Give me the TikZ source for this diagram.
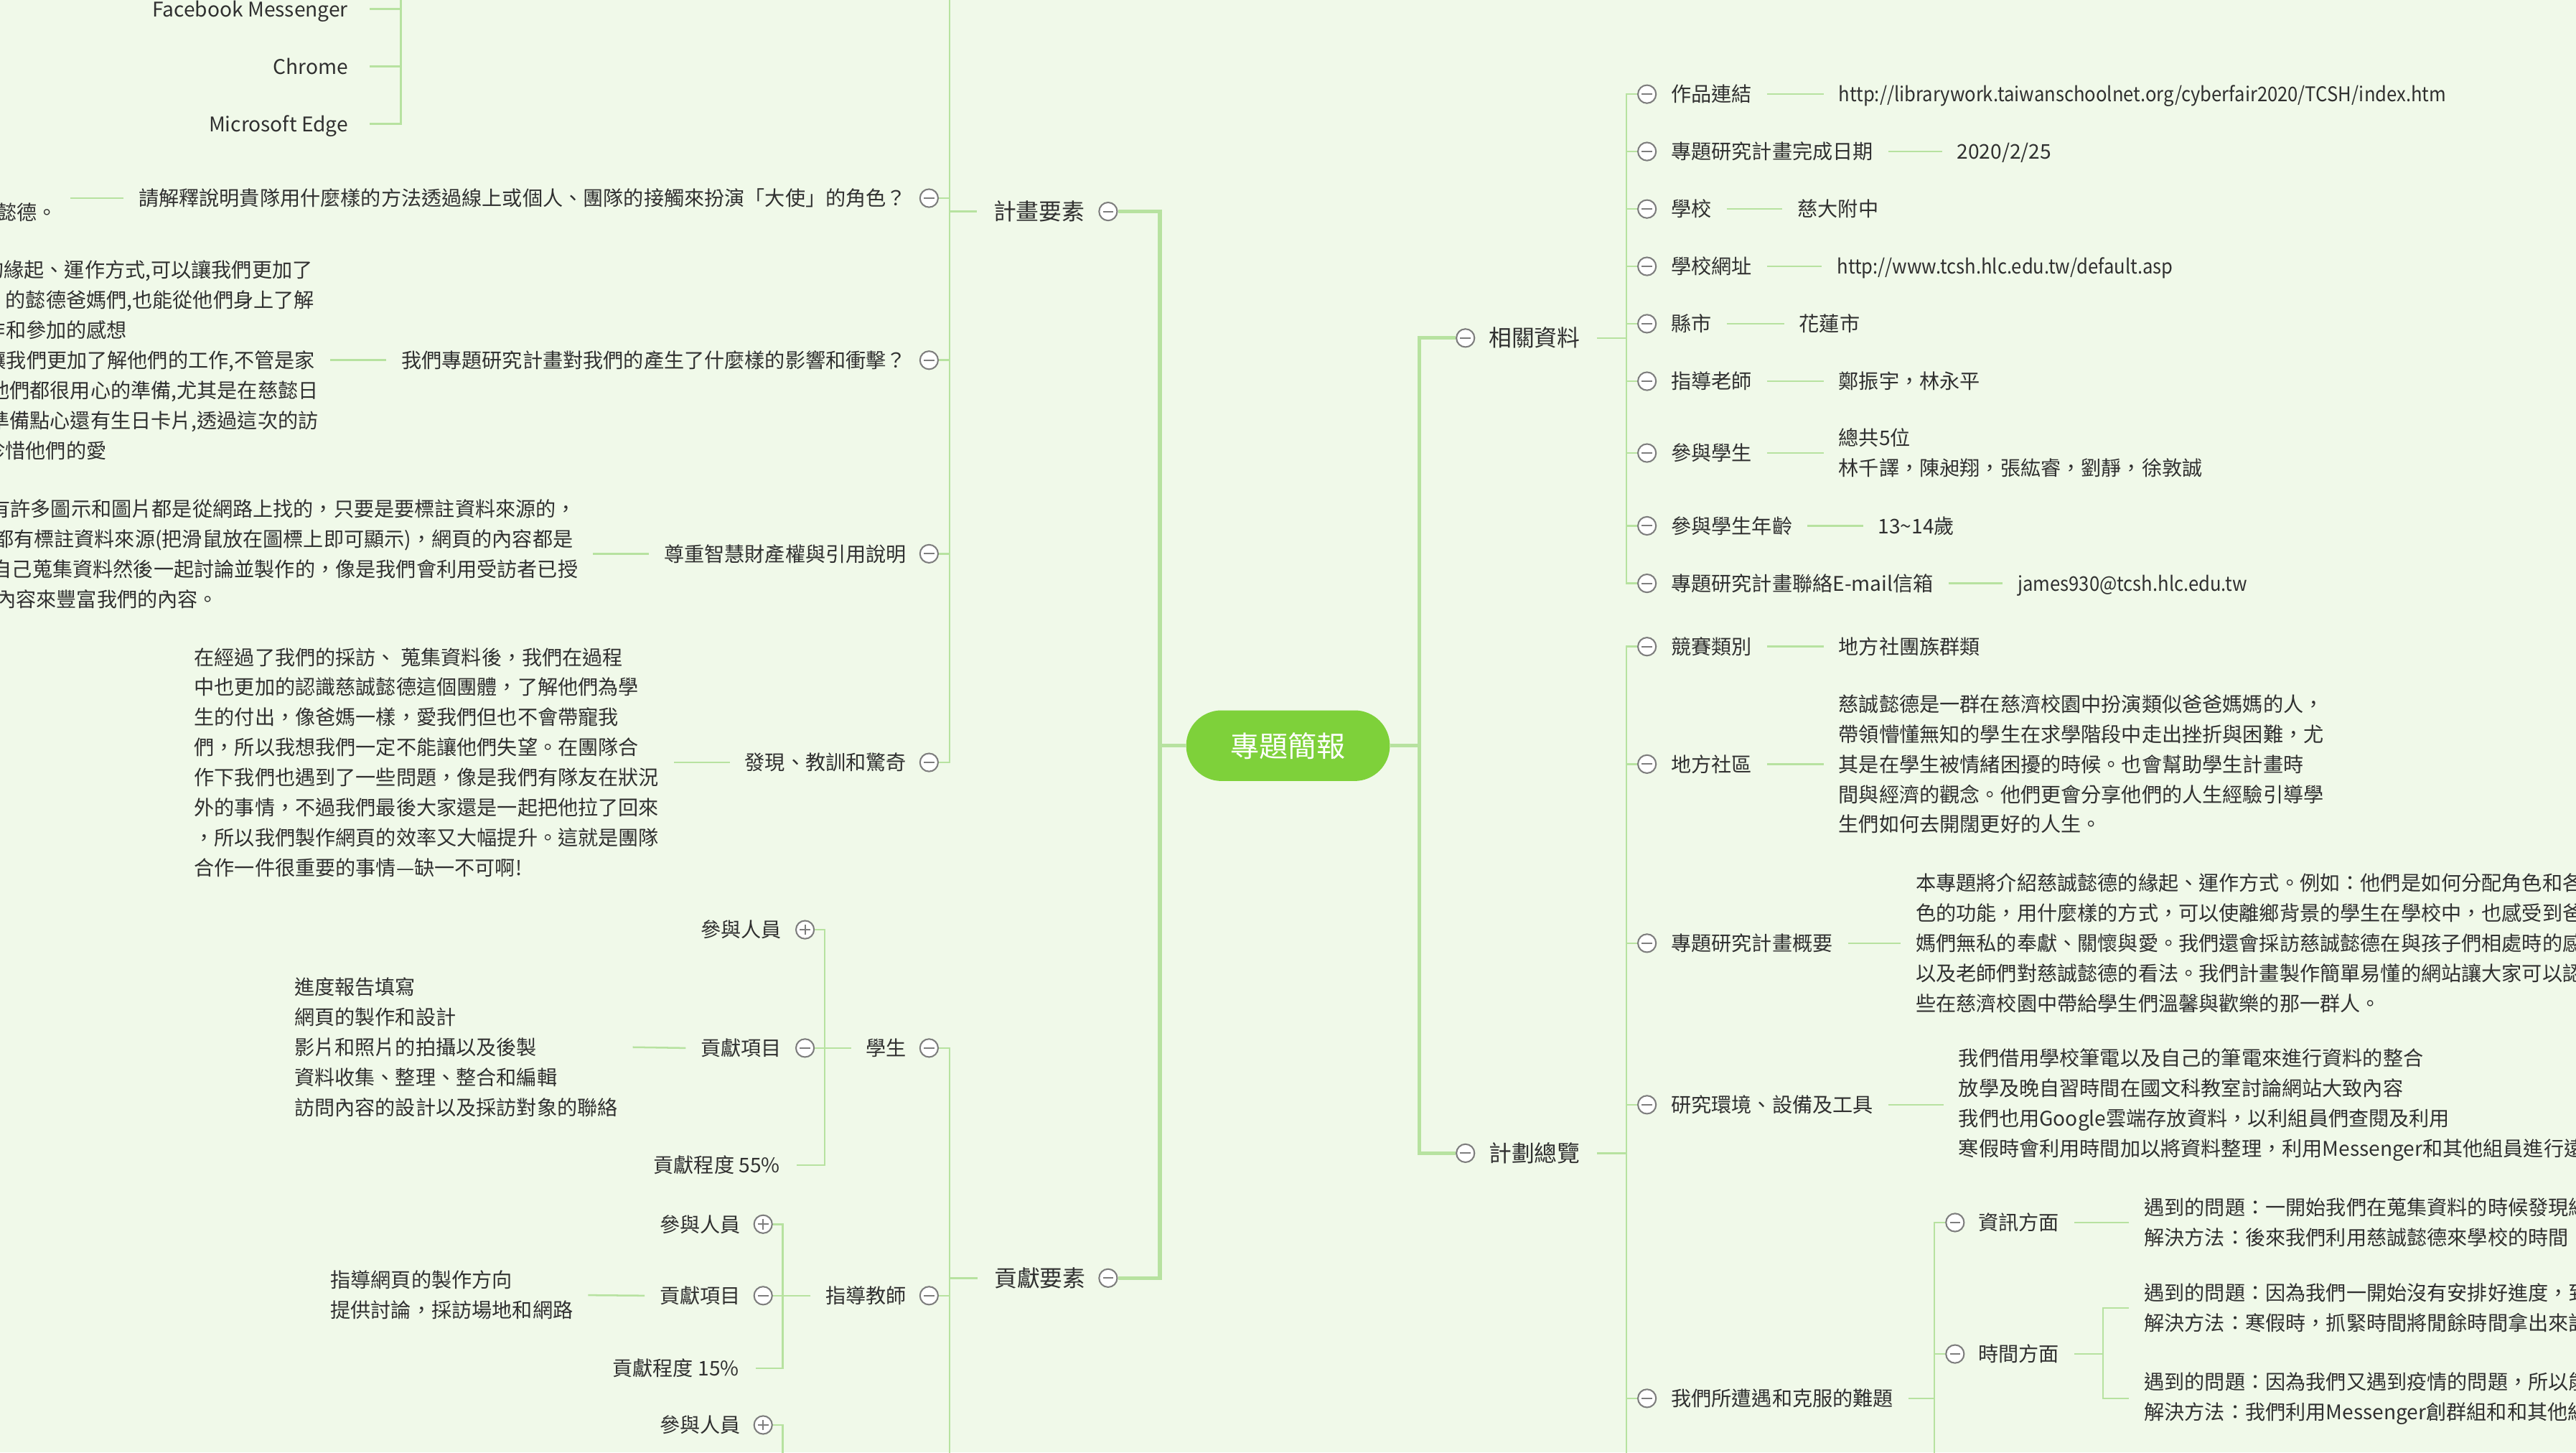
\documentclass[tikz,border=0pt]{standalone}
\usepackage{fontspec}
\setmainfont{Noto Sans CJK TC}
\newfontfamily\narrowfont[FakeStretch=0.91]{Noto Sans CJK TC}
\definecolor{bgc}{RGB}{240,249,233}
\definecolor{lineg}{RGB}{183,226,160}
\definecolor{txt}{RGB}{48,48,48}
\definecolor{hubg}{RGB}{126,209,58}
\definecolor{cgray}{RGB}{125,125,125}
\tikzset{
  lab/.style={anchor=west, inner sep=0pt, text=txt, font=\fontsize{12.3}{18.3}\selectfont, text height=10.8pt, text depth=1.4pt},
  labr/.style={lab, anchor=east},
  labn/.style={lab, font=\narrowfont\fontsize{12.3}{18.3}\selectfont},
  labone/.style={lab, font=\fontsize{13.9}{18}\selectfont, text height=12.1pt, text depth=1.6pt},
  laboner/.style={labone, anchor=east},
  para/.style={anchor=west, inner sep=0pt, text=txt, font=\fontsize{12.3}{18.3}\selectfont, align=left},
  hubnode/.style={rectangle, rounded corners=21.5pt, fill=hubg, text=white, minimum width=124pt, minimum height=43pt, inner sep=0pt, font=\fontsize{17.5}{20}\selectfont},
  tog/.style={circle, draw=cgray, fill=white, line width=0.9pt, minimum size=11pt, inner sep=0pt,
    path picture={\draw[cgray, line width=0.9pt] ([xshift=-3.2pt]path picture bounding box.center) -- ([xshift=3.2pt]path picture bounding box.center);}},
  togp/.style={circle, draw=cgray, fill=white, line width=0.9pt, minimum size=11pt, inner sep=0pt,
    path picture={\draw[cgray, line width=0.9pt] ([xshift=-3.2pt]path picture bounding box.center) -- ([xshift=3.2pt]path picture bounding box.center);
                  \draw[cgray, line width=0.9pt] ([yshift=-3.2pt]path picture bounding box.center) -- ([yshift=3.2pt]path picture bounding box.center);}},
  conn/.style={draw=lineg, line width=1.1pt},
  trunk/.style={draw=lineg, line width=2.2pt},
}
\begin{document}
\begin{tikzpicture}[x=1pt, y=-1pt]
\useasboundingbox (0,0) rectangle (1568,884);
\fill[bgc] (0,0) rectangle (1568,884);
\clip (0,0) rectangle (1568,884);

% ---------- hub and level 1 ----------
\node[hubnode] (hub) at (784,453.8) {專題簡報};
\coordinate (RT) at (864,453.8);
\coordinate (LT) at (706,453.8);

\node[tog] (cXG) at (892,205.7) {};
\node[labone] (XG) at (906,205.7) {相關資料};
\node[tog] (cJH) at (892,701.8) {};
\node[labone] (JH) at (906,701.8) {計劃總覽};
\node[tog] (cJY) at (674.5,128.7) {};
\node[laboner] (JY) at (660.5,128.7) {計畫要素};
\node[tog] (cGX) at (674.5,777.8) {};
\node[laboner] (GX) at (661,777.8) {貢獻要素};

\draw[trunk] (hub.east) -- (RT);
\draw[trunk] (cXG.west) -| (RT) |- (cJH.west);
\draw[trunk] (hub.west) -- (LT);
\draw[trunk] (cJY.east) -| (LT) |- (cGX.east);

% ---------- right: 相關資料 ----------
\coordinate (XGt) at (990,205.7);
\draw[conn] ([xshift=10pt]XG.east) -- (XGt);

\node[tog] (cR1) at (1002.5,57.3) {};
\node[lab] (R1) at (1017,57.3) {作品連結};
\node[labn] (V1) at (1119,57.3) {http://librarywork.taiwanschoolnet.org/cyberfair2020/TCSH/index.htm};
\node[tog] (cR2) at (1002.5,92.2) {};
\node[lab] (R2) at (1017,92.2) {專題研究計畫完成日期};
\node[lab] (V2) at (1191,92.2) {2020/2/25};
\node[tog] (cR3) at (1002.5,127.2) {};
\node[lab] (R3) at (1017,127.2) {學校};
\node[lab] (V3) at (1094,127.2) {慈大附中};
\node[tog] (cR4) at (1002.5,162.1) {};
\node[lab] (R4) at (1017,162.1) {學校網址};
\node[labn] (V4) at (1118,162.1) {http://www.tcsh.hlc.edu.tw/default.asp};
\node[tog] (cR5) at (1002.5,197) {};
\node[lab] (R5) at (1017,197) {縣市};
\node[lab] (V5) at (1095,197) {花蓮市};
\node[tog] (cR6) at (1002.5,232) {};
\node[lab] (R6) at (1017,232) {指導老師};
\node[lab] (V6) at (1119,232) {鄭振宇，林永平};
\node[tog] (cR7) at (1002.5,275.7) {};
\node[lab] (R7) at (1017,275.7) {參與學生};
\node[para] (V7) at (1119,275.7) {總共5位\\林千譯，陳昶翔，張紘睿，劉靜，徐敦誠};
\node[tog] (cR8) at (1002.5,320) {};
\node[lab] (R8) at (1017,320) {參與學生年齡};
\node[lab] (V8) at (1143,320) {13\textasciitilde14歲};
\node[tog] (cR9) at (1002.5,355) {};
\node[lab] (R9) at (1017,355) {專題研究計畫聯絡E-mail信箱};
\node[labn] (V9) at (1228,355) {james930@tcsh.hlc.edu.tw};

\foreach \i in {1,...,9} {
  \draw[conn] (XGt) |- (cR\i.west);
  \draw[conn] ([xshift=9pt]R\i.east) -- ([xshift=-9pt]V\i.west);
}

% ---------- right: 計劃總覽 ----------
\coordinate (JHt) at (990,701.8);
\coordinate (JHend) at (990,900);
\draw[conn] ([xshift=10pt]JH.east) -- (JHt) -- (JHend);

\node[tog] (cP1) at (1002.5,393.5) {};
\node[lab] (P1) at (1017,393.5) {競賽類別};
\node[lab] (W1) at (1119,393.5) {地方社團族群類};
\node[tog] (cP2) at (1002.5,465) {};
\node[lab] (P2) at (1017,465) {地方社區};
\node[para] (W2) at (1119,465) {慈誠懿德是一群在慈濟校園中扮演類似爸爸媽媽的人，\\帶領懵懂無知的學生在求學階段中走出挫折與困難，尤\\其是在學生被情緒困擾的時候。也會幫助學生計畫時\\間與經濟的觀念。他們更會分享他們的人生經驗引導學\\生們如何去開闊更好的人生。};
\node[tog] (cP3) at (1002.5,574) {};
\node[lab] (P3) at (1017,574) {專題研究計畫概要};
\node[para] (W3) at (1166,574) {本專題將介紹慈誠懿德的緣起、運作方式。例如：他們是如何分配角色和各\\色的功能，用什麼樣的方式，可以使離鄉背景的學生在學校中，也感受到爸\\媽們無私的奉獻、關懷與愛。我們還會採訪慈誠懿德在與孩子們相處時的感\\以及老師們對慈誠懿德的看法。我們計畫製作簡單易懂的網站讓大家可以認\\些在慈濟校園中帶給學生們溫馨與歡樂的那一群人。};
\node[tog] (cP4) at (1002.5,672.3) {};
\node[lab] (P4) at (1017,672.3) {研究環境、設備及工具};
\node[para] (W4) at (1192,672.3) {我們借用學校筆電以及自己的筆電來進行資料的整合\\放學及晚自習時間在國文科教室討論網站大致內容\\我們也用Google雲端存放資料，以利組員們查閱及利用\\寒假時會利用時間加以將資料整理，利用Messenger和其他組員進行遠};
\node[tog] (cP5) at (1002.5,851) {};
\node[lab] (P5) at (1017,851) {我們所遭遇和克服的難題};

\foreach \i in {1,...,5} {
  \draw[conn] (JHt) |- (cP\i.west);
}
\foreach \i in {1,...,4} {
  \draw[conn] ([xshift=9pt]P\i.east) -- ([xshift=-9pt]W\i.west);
}

% 難題 subtree
\coordinate (NTt) at (1177.5,851);
\coordinate (NTend) at (1177.5,900);
\draw[conn] ([xshift=9pt]P5.east) -- (NTt) -- (NTend);
\node[tog] (cN1) at (1190,744) {};
\node[lab] (N1) at (1204,744) {資訊方面};
\node[para] (NV1) at (1305,744) {遇到的問題：一開始我們在蒐集資料的時候發現網\\解決方法：後來我們利用慈誠懿德來學校的時間，};
\node[tog] (cN2) at (1190,824) {};
\node[lab] (N2) at (1204,824) {時間方面};
\node[para] (NV2) at (1305,796) {遇到的問題：因為我們一開始沒有安排好進度，到\\解決方法：寒假時，抓緊時間將閒餘時間拿出來討};
\node[para] (NV3) at (1305,851) {遇到的問題：因為我們又遇到疫情的問題，所以能\\解決方法：我們利用Messenger創群組和和其他組};
\draw[conn] (NTt) |- (cN1.west);
\draw[conn] (NTt) |- (cN2.west);
\draw[conn] ([xshift=9pt]N1.east) -- ([xshift=-9pt]NV1.west);
\coordinate (N2t) at (1280,824);
\draw[conn] ([xshift=9pt]N2.east) -- (N2t);
\draw[conn] (N2t) |- ([xshift=-9pt]NV2.west);
\draw[conn] (N2t) |- ([xshift=-9pt]NV3.west);

% ---------- left: 計畫要素 ----------
\coordinate (JYt) at (578,128.7);
\coordinate (JYtop) at (578,-20);
\draw[conn] ([xshift=-10pt]JY.west) -- (JYt) -- (JYtop);

% top list
\node[labr] (F1) at (212,5.5) {Facebook Messenger};
\node[labr] (F2) at (212,40.5) {Chrome};
\node[labr] (F3) at (212,75.4) {Microsoft Edge};
\coordinate (Ft) at (244,75.4);
\coordinate (Ftop) at (244,-20);
\draw[conn] ([xshift=13pt]F3.east) -- (Ft) -- (Ftop);
\draw[conn] ([xshift=13pt]F1.east) -- (Ft |- F1.east);
\draw[conn] ([xshift=13pt]F2.east) -- (Ft |- F2.east);

% Q1
\node[tog] (cQ1) at (565.5,120.6) {};
\node[labr] (Q1) at (552,120.6) {請解釋說明貴隊用什麼樣的方法透過線上或個人、團隊的接觸來扮演「大使」的角色？};
\node[labr] (QV1) at (35,129) {懿德。};
\coordinate (QV1e) at ([xshift=8pt]QV1.east);
\draw[conn] ([xshift=-9pt]Q1.west) -- (QV1e |- Q1.west);

% Q2
\node[tog] (cQ2) at (565.5,219.2) {};
\node[labr] (Q2) at (552,219.2) {我們專題研究計畫對我們的產生了什麼樣的影響和衝擊？};
\node[labr] (Q2a) at (190.5,164.3) {的緣起、運作方式,可以讓我們更加了};
\node[labr] (Q2b) at (191.5,182.6) {的懿德爸媽們,也能從他們身上了解};
\node[labr] (Q2c) at (77.5,200.9) {作和參加的感想};
\node[labr] (Q2d) at (192,219.2) {讓我們更加了解他們的工作,不管是家};
\node[labr] (Q2e) at (194,237.5) {他們都很用心的準備,尤其是在慈懿日};
\node[labr] (Q2f) at (194,255.8) {準備點心還有生日卡片,透過這次的訪};
\node[labr] (Q2g) at (65,274.1) {珍惜他們的愛};
\draw[conn] ([xshift=-9pt]Q2.west) -- ([xshift=9pt]Q2d.east);

% Q3
\node[tog] (cQ3) at (565.5,337) {};
\node[labr] (Q3) at (552,337) {尊重智慧財產權與引用說明};
\node[labr] (Q3a) at (351,309.6) {有許多圖示和圖片都是從網路上找的，只要是要標註資料來源的，};
\node[labr] (Q3b) at (349,327.9) {都有標註資料來源(把滑鼠放在圖標上即可顯示)，網頁的內容都是};
\node[labr] (Q3c) at (352,346.2) {自己蒐集資料然後一起討論並製作的，像是我們會利用受訪者已授};
\node[labr] (Q3d) at (133,364.5) {內容來豐富我們的內容。};
\coordinate (Q3e) at ([xshift=9pt]Q3c.east);
\draw[conn] ([xshift=-9pt]Q3.west) -- (Q3e |- Q3.west);

% Q4
\node[tog] (cQ4) at (565.5,464) {};
\node[labr] (Q4) at (552,464) {發現、教訓和驚奇};
\node[para] (Q4V) at (118,464) {在經過了我們的採訪、 蒐集資料後，我們在過程\\中也更加的認識慈誠懿德這個團體，了解他們為學\\生的付出，像爸媽一樣，愛我們但也不會帶寵我\\們，所以我想我們一定不能讓他們失望。在團隊合\\作下我們也遇到了一些問題，像是我們有隊友在狀況\\外的事情，不過我們最後大家還是一起把他拉了回來\\，所以我們製作網頁的效率又大幅提升。這就是團隊\\合作一件很重要的事情—缺一不可啊!};
\draw[conn] ([xshift=-9pt]Q4.west) -- ([xshift=9pt]Q4V.east);

\foreach \i in {1,...,4} {
  \draw[conn] (JYt) |- (cQ\i.east);
}

% ---------- left: 貢獻要素 ----------
\coordinate (GXt) at (578,777.8);
\coordinate (GXend) at (578,900);
\draw[conn] ([xshift=-10pt]GX.west) -- (GXt) -- (GXend);

% 學生
\node[tog] (cS) at (565.5,637.8) {};
\node[labr] (S) at (552,637.8) {學生};
\draw[conn] (GXt) |- (cS.east);
\coordinate (St) at (502,637.8);
\draw[conn] ([xshift=-9pt]S.west) -- (St);
\node[togp] (cS1) at (490,565.8) {};
\node[labr] (S1) at (476,565.8) {參與人員};
\node[tog] (cS2) at (490,637.8) {};
\node[labr] (S2) at (476,637.8) {貢獻項目};
\node[labr] (S3) at (475,709) {貢獻程度 55\%};
\node[para] (SV) at (179,637.3) {進度報告填寫\\網頁的製作和設計\\影片和照片的拍攝以及後製\\資料收集、整理、整合和編輯\\訪問內容的設計以及採訪對象的聯絡};
\draw[conn] (St) |- (cS1.east);
\draw[conn] (St) |- (cS2.east);
\draw[conn] (St) |- ([xshift=10pt]S3.east);
\draw[conn] ([xshift=-9pt]S2.west) -- ([xshift=9pt]SV.east);

% 指導教師
\node[tog] (cT) at (565.5,788.5) {};
\node[labr] (T) at (552,788.5) {指導教師};
\draw[conn] (GXt) |- (cT.east);
\coordinate (Tt) at (476.5,788.5);
\draw[conn] ([xshift=-9pt]T.west) -- (Tt);
\node[togp] (cT1) at (464.5,745) {};
\node[labr] (T1) at (451,745) {參與人員};
\node[tog] (cT2) at (464.5,788.5) {};
\node[labr] (T2) at (451,788.5) {貢獻項目};
\node[labr] (T3) at (450,832.7) {貢獻程度 15\%};
\node[para] (TV) at (201,788.2) {指導網頁的製作方向\\提供討論，採訪場地和網路};
\draw[conn] (Tt) |- (cT1.east);
\draw[conn] (Tt) |- (cT2.east);
\draw[conn] (Tt) |- ([xshift=10pt]T3.east);
\draw[conn] ([xshift=-9pt]T2.west) -- ([xshift=9pt]TV.east);

% bottom group
\node[togp] (cU1) at (464.5,867.2) {};
\node[labr] (U1) at (451,867.2) {參與人員};
\coordinate (Ut) at (476.5,867.2);
\coordinate (Uend) at (476.5,900);
\draw[conn] (cU1.east) -- (Ut) -- (Uend);
\end{tikzpicture}
\end{document}
